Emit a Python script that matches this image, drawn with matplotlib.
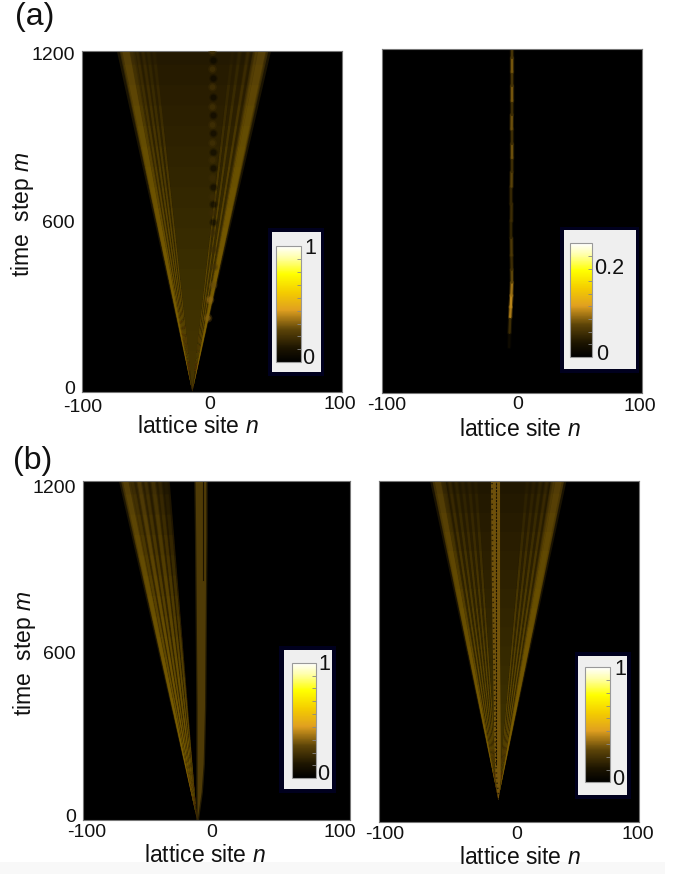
"""Intensity maps of the walker on a lattice, panels (a) and (b), each with an inset colour scale."""
import matplotlib
matplotlib.use("Agg")
import matplotlib.pyplot as plt
import numpy as np
from matplotlib.cm import ScalarMappable
from matplotlib.collections import LineCollection
from matplotlib.colors import LinearSegmentedColormap, Normalize
from matplotlib.patches import Rectangle
from matplotlib.transforms import ScaledTranslation

W, H = 692, 874
plt.rcParams["font.family"] = ["Liberation Sans", "DejaVu Sans"]
plt.rcParams["mathtext.fontset"] = "custom"
plt.rcParams["mathtext.it"] = "Liberation Sans:italic"
plt.rcParams["mathtext.rm"] = "Liberation Sans"

SITE_TICKS = [-100, 0, 100]
SITE_LABELS = ["-100", "0", "100"]
STEP_TICKS = [0, 600, 1200]
STEP_LABELS = ["0", "600", "1200"]

# (a) left: beams from the apex to their site at m = 1200
AL_APEX = (-15, 0)
AL_ENDS = [-66, -61.5, -57.5, -53, -49, -44.5, 16, 21.5, 28, 34, 38.5]
AL_LEVELS = [0.28, 0.2, 0.19, 0.18, 0.17, 0.16, 0.15, 0.17, 0.19, 0.21, 0.28]
AL_WIDTHS = [7, 2, 2, 2, 2, 2, 2, 2, 2, 2, 7]
AL_FAN = (-70, 42, 0.14)
# (a) left: bright and dark spots of the bound state near n = 0
AL_BLOB_M = [260, 324, 376, 440, 500, 560, 630, 686, 753, 816, 876, 940, 1003, 1073, 1136, 1198]
AL_BLOB_N = [-3, -1.5, 1, 1.5, 1, 0.5, 0.5, 0.5, 0.5, 0.5, 0.5, 0.5, 0.5, 0.5, 0.5, 0.5]
AL_BLOB_L = [0.33, 0.34, 0.3, 0.22, 0.2, 0.2, 0.2, 0.2, 0.2, 0.21, 0.22, 0.22, 0.22, 0.22, 0.22, 0.22]
AL_GAP_M = [600, 660, 720, 788, 845, 911, 975, 1038, 1105, 1168]
AL_GAP_N = [0.5, 0.5, 0.5, 0.5, 0.5, 0.5, 0.5, 0.5, 0.5, 0.5]

# (a) right: single thin bound track
AR_M = [160, 210, 265, 300, 340, 385, 430, 480, 540, 600, 660, 720, 770, 820, 870, 920, 970, 1020, 1070, 1120, 1170, 1200]
AR_N = [-2.3, -2.0, -1.5, -1.1, -0.6, -0.2, -0.3, -0.5, -0.6, -0.6, -0.5, -0.5, -0.4, -0.4, -0.4, -0.4, -0.3, -0.3, -0.3, -0.3, -0.3, -0.3]
AR_L = [0.06, 0.2, 0.38, 0.4, 0.36, 0.28, 0.2, 0.24, 0.17, 0.2, 0.18, 0.27, 0.2, 0.3, 0.2, 0.3, 0.2, 0.31, 0.22, 0.31, 0.22, 0.28]

# (b) left
BL_APEX = (-14.5, 0)
BL_ENDS = [-68, -63, -58, -53, -47.5, -42.5, -38]
BL_LEVELS = [0.28, 0.21, 0.25, 0.21, 0.22, 0.18, 0.14]
BL_WIDTHS = [5, 2.5, 3, 2.5, 3, 2.5, 2.5]
BL_FAN = (-71, -35, 0.11)
BL_PILLAR_M = [0, 100, 200, 400, 700, 1000, 1200]
BL_PILLAR_L = [-14.5, -14.5, -14.5, -14.5, -15, -15.5, -16]
BL_PILLAR_R = [-14.5, -11.5, -10, -9, -8.5, -8, -8]
BL_PILLAR_LEVEL = 0.28

# (b) right
BR_APEX = (-8.5, 80)
BR_ENDS = [-55, -51, -46, -41, -36, -31, -26, 14, 19, 24, 29, 34, 38]
BR_LEVELS = [0.26, 0.18, 0.18, 0.17, 0.16, 0.16, 0.15, 0.15, 0.16, 0.17, 0.18, 0.19, 0.27]
BR_WIDTHS = [6, 2, 2, 2, 2, 2, 2, 2, 2, 2, 2, 2, 6]
BR_FAN = (-59, 42, 0.13)
BR_PILLAR_M = [80, 150, 300, 600, 900, 1200]
BR_PILLAR_L = [-9, -11, -12, -13, -14, -14.5]
BR_PILLAR_R = [-8.5, -7, -7, -7.5, -7.5, -7.5]
BR_PILLAR_LEVEL = 0.33

cmap = LinearSegmentedColormap.from_list(
    "walk",
    [(0, "#000000"), (0.12, "#1c1400"), (0.28, "#5c4408"), (0.45, "#e0a020"),
     (0.6, "#f4cc00"), (0.76, "#ffff00"), (0.9, "#ffffa8"), (1, "#ffffff")],
)
GLOW = "#a88400"
FADE = [0.06, 0.12, 0.18, 0.24, 0.3, 0.36, 0.42, 0.48, 0.54, 0.6, 0.66, 0.72, 0.78, 0.84, 0.9, 0.96]


def add_axes(fig, x0, y0, x1, y1):
    return fig.add_axes([x0 / W, 1 - y1 / H, (x1 - x0) / W, (y1 - y0) / H])


def px_text(fig, x, y, s, size=14, ha="center", **kw):
    return fig.text(x / W, 1 - y / H, s, fontsize=size, ha=ha, va="center", color="#111", zorder=9, **kw)


def shift(fig, labels, offs):
    for lab, (dx, dy) in zip(labels, offs):
        lab.set_transform(lab.get_transform() + ScaledTranslation(dx / 100, -dy / 100, fig.dpi_scale_trans))


def wedge(ax, apex, left, right, frac, color, alpha):
    n0, m0 = apex
    top = m0 + (1200 - m0) * frac
    ax.fill([n0, n0 + (left - n0) * frac, n0 + (right - n0) * frac], [m0, top, top], color=color, alpha=alpha, lw=0)


def beam(ax, apex, end, half, level):
    # soft edge from nested wedges, brighter low down from stacked short ones
    for k, a in [(1.0, 0.3), (0.7, 0.45), (0.4, 0.75)]:
        wedge(ax, apex, end - k * half, end + k * half, 1, cmap(level), a)
    for f in FADE:
        wedge(ax, apex, end - 0.6 * half, end + 0.6 * half, f, GLOW, 0.05)


def fan(ax, apex, left, right, level):
    wedge(ax, apex, left, right, 1, cmap(level), 1)
    for f in FADE:
        wedge(ax, apex, left, right, f, GLOW, 0.025)


def panel(fig, box, xoffs):
    ax = add_axes(fig, *box)
    ax.set_facecolor("black")
    ax.set_xlim(-100, 100)
    ax.set_ylim(0, 1200)
    ax.set_xticks(SITE_TICKS, SITE_LABELS, fontsize=14, color="#111")
    ax.tick_params(length=0, pad=3)
    shift(fig, ax.get_xticklabels(), xoffs)
    for s in ax.spines.values():
        s.set_color("#777")
        s.set_linewidth(0.8)
    return ax


def steps_axis(fig, ax, yoffs):
    ax.set_yticks(STEP_TICKS, STEP_LABELS, fontsize=14, color="#111")
    ax.tick_params(axis="y", pad=5)
    shift(fig, ax.get_yticklabels(), yoffs)


def scale_box(fig, outer, inner, bar, vmax, labels):
    fig.add_artist(Rectangle((outer[0] / W, 1 - outer[3] / H), (outer[2] - outer[0]) / W, (outer[3] - outer[1]) / H,
                             transform=fig.transFigure, fc="#00001e", ec="none", zorder=5))
    fig.add_artist(Rectangle((inner[0] / W, 1 - inner[3] / H), (inner[2] - inner[0]) / W, (inner[3] - inner[1]) / H,
                             transform=fig.transFigure, fc="#efefef", ec="none", zorder=6))
    cax = add_axes(fig, *bar)
    cax.set_zorder(7)
    cb = fig.colorbar(ScalarMappable(Normalize(0, vmax), cmap), cax=cax)
    cb.outline.set_edgecolor("#999")
    cb.outline.set_linewidth(0.8)
    cb.set_ticks(np.linspace(0, vmax, 10)[1:-1], labels=[])
    cax.tick_params(direction="in", length=3, width=0.6, color="#888", right=True)
    for x, y, s in labels:
        px_text(fig, x, y, s, size=15.5)


fig = plt.figure(figsize=(W / 100, H / 100), dpi=100)
fig.add_artist(Rectangle((0, 0), 665 / W, 12 / H, transform=fig.transFigure, fc="#f8f8f8", ec="none", zorder=0))

# --- (a) left ---
ax = panel(fig, (81.7, 51, 342, 392), [(1, 3), (-2, 0), (-2, 0)])
steps_axis(fig, ax, [(0, -5), (0, 0), (0, 3)])
fan(ax, AL_APEX, AL_FAN[0], AL_FAN[1], AL_FAN[2])
for e, l, w in zip(AL_ENDS, AL_LEVELS, AL_WIDTHS):
    beam(ax, AL_APEX, e, w, l)
ax.scatter(AL_GAP_N, AL_GAP_M, s=38, c="#000", alpha=0.2, lw=0, zorder=3)
ax.scatter(AL_GAP_N, AL_GAP_M, s=18, c="#000", alpha=0.35, lw=0, zorder=3)
ax.scatter(AL_BLOB_N, AL_BLOB_M, s=40, c=AL_BLOB_L, cmap=cmap, norm=Normalize(0, 1), alpha=0.3, lw=0, zorder=3)
ax.scatter(AL_BLOB_N, AL_BLOB_M, s=16, c=AL_BLOB_L, cmap=cmap, norm=Normalize(0, 1), alpha=0.6, lw=0, zorder=3)

# --- (a) right ---
ax = panel(fig, (382, 49, 642.3, 393), [(5, 0), (6, -1), (-2, 1)])
ax.set_yticks([])
seg = np.column_stack([AR_N, AR_M])
segs = np.stack([seg[:-1], seg[1:]], axis=1)
for lw, a in [(3.2, 0.35), (1.7, 1)]:
    ax.add_collection(LineCollection(segs, array=np.array(AR_L[:-1]), cmap=cmap, norm=Normalize(0, 1),
                                     linewidths=lw, alpha=a, capstyle="round"))

# --- (b) left ---
ax = panel(fig, (82.7, 480.7, 350.3, 820), [(4, 0), (-5, 0), (-10, 0)])
steps_axis(fig, ax, [(0, -5), (0, 2), (0, 6)])
fan(ax, BL_APEX, BL_FAN[0], BL_FAN[1], BL_FAN[2])
for e, l, w in zip(BL_ENDS, BL_LEVELS, BL_WIDTHS):
    beam(ax, BL_APEX, e, w, l)
ax.fill_betweenx(BL_PILLAR_M, np.array(BL_PILLAR_L) - 1, np.array(BL_PILLAR_R) + 1,
                 color=cmap(BL_PILLAR_LEVEL), lw=0, alpha=0.4)
ax.fill_betweenx(BL_PILLAR_M, BL_PILLAR_L, BL_PILLAR_R, color=cmap(BL_PILLAR_LEVEL), lw=0, alpha=0.8)
ax.plot([-10.3, -10.3], [850, 1200], color="#1a1200", lw=0.8)

# --- (b) right ---
ax = panel(fig, (379.3, 481, 639.3, 822), [(5, 0), (7, 0), (-1, 0)])
ax.set_yticks([])
fan(ax, BR_APEX, BR_FAN[0], BR_FAN[1], BR_FAN[2])
for e, l, w in zip(BR_ENDS, BR_LEVELS, BR_WIDTHS):
    beam(ax, BR_APEX, e, w, l)
ax.fill_betweenx(BR_PILLAR_M, BR_PILLAR_L, BR_PILLAR_R, color=cmap(BR_PILLAR_LEVEL), lw=0, alpha=0.8)
ax.plot([-10, -10], [200, 1200], color="#1a1200", lw=0.8, ls=(0, (2, 1)))
ax.plot(np.array(BR_PILLAR_L) + 1.2, BR_PILLAR_M, color="#000", lw=1.2, alpha=0.6, ls=(0, (0.8, 2.3)))

# --- inset colour scales ---
scale_box(fig, (267.7, 228, 324, 375.7), (271.7, 232.3, 320.7, 371.7), (276.3, 246, 300.7, 362.3), 1,
          [(310, 248, "1"), (308, 358, "0")])
scale_box(fig, (560, 226.7, 639.3, 372.7), (564.3, 230, 636, 369.3), (570, 243.3, 592, 356.7), 0.28,
          [(609.3, 268.3, "0.2"), (601.7, 354.3, "0")])
scale_box(fig, (279.3, 646, 336, 792.7), (283.7, 650, 332.3, 788.7), (291.7, 662.7, 316, 778.3), 1,
          [(324, 665, "1"), (322.7, 775, "0")])
scale_box(fig, (574.7, 652, 631, 799), (578, 656, 627, 794.7), (585, 667.3, 609.7, 782.3), 1,
          [(620, 669.3, "1"), (618.3, 779.3, "0")])

# --- labels ---
xlab = r"lattice site $\mathit{n}$"
ylab = r"time  step $\mathit{m}$"
px_text(fig, 198, 427, xlab, size=16.5)
px_text(fig, 520, 429, xlab, size=16.5)
px_text(fig, 205, 856, xlab, size=16.5)
px_text(fig, 520, 857, xlab, size=16.5)
px_text(fig, 22, 214, ylab, size=16.5, rotation=90)
px_text(fig, 25, 653, ylab, size=16.5, rotation=90)
px_text(fig, 35, 17, "(a)", size=23)
px_text(fig, 33, 461, "(b)", size=23)

fig.savefig("out.png", dpi=100)
